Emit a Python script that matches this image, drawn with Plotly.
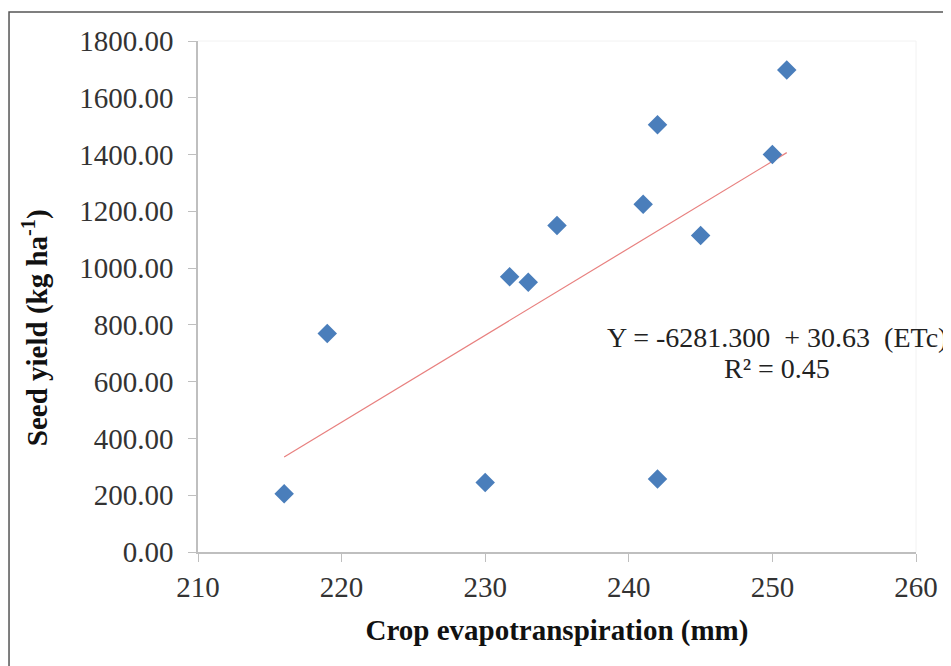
import plotly.graph_objects as go

# Data
etc_mm = [216, 219, 230, 231.7, 233, 235, 241, 242, 242, 245, 250, 251]
seed_yield = [205, 770, 245, 970, 950, 1150, 1225, 1505, 257, 1115, 1400, 1698]

# Trend line equation shown on chart
intercept = -6281.300
slope = 30.63
r2 = 0.45

x_ticks = [210, 220, 230, 240, 250, 260]
y_ticks = [0, 200, 400, 600, 800, 1000, 1200, 1400, 1600, 1800]

fmin, fmax = min(etc_mm), max(etc_mm)
trend_x = [fmin, fmax]
trend_y = [intercept + slope * v for v in trend_x]

FONT = "Liberation Serif, Times New Roman, serif"

fig = go.Figure()
fig.add_trace(go.Scatter(
    x=trend_x, y=trend_y, mode="lines",
    line=dict(color="#e8807f", width=1.2),
    showlegend=False, hoverinfo="skip"))
fig.add_trace(go.Scatter(
    x=etc_mm, y=seed_yield, mode="markers",
    marker=dict(symbol="diamond", size=15, color="#4a7ebb",
                line=dict(width=0)),
    showlegend=False))

fig.add_annotation(x=250.3, y=754, xref="x", yref="y",
                   text="Y = -6281.300 &nbsp;+ 30.63 &nbsp;(ETc)", showarrow=False,
                   font=dict(family=FONT, size=28, color="#222"))
fig.add_annotation(x=250.3, y=648, xref="x", yref="y",
                   text="R² = 0.45", showarrow=False,
                   font=dict(family=FONT, size=28, color="#222"))

# y-axis title (offset downward like the reference)
fig.add_annotation(x=-0.227, y=0.438, xref="paper", yref="paper",
                   text="<b>Seed yield (kg ha<sup>-1</sup>)</b>", textangle=-90,
                   showarrow=False, xanchor="center", yanchor="middle",
                   font=dict(family=FONT, size=29, color="#111"))

# outer border
fig.add_shape(type="rect", xref="paper", yref="paper",
              x0=-0.2632, x1=1.1, y0=-0.29, y1=1.0568,
              line=dict(color="#555", width=1.5), layer="below")

fig.update_layout(
    width=943, height=658,
    margin=dict(l=190, r=35, t=33, b=114),
    paper_bgcolor="white", plot_bgcolor="white",
    font=dict(family=FONT, color="#222"),
    xaxis=dict(
        range=[210, 260], tickvals=x_ticks, ticktext=[str(v) for v in x_ticks],
        showgrid=False, zeroline=False,
        showline=True, linecolor="#bfbfbf", linewidth=1.5,
        ticks="outside", ticklen=8, tickcolor="#bfbfbf",
        ticklabelstandoff=0,
        tickfont=dict(family=FONT, size=29, color="#333"),
        title=dict(text="<b>Crop evapotranspiration (mm)</b>",
                   font=dict(family=FONT, size=29, color="#111"),
                   standoff=18),
        mirror=False),
    yaxis=dict(
        range=[0, 1800], tickvals=y_ticks,
        ticktext=[f"{v:.2f}" for v in y_ticks],
        showgrid=False, zeroline=False,
        showline=True, linecolor="#bfbfbf", linewidth=1.5,
        ticks="outside", ticklen=8, tickcolor="#bfbfbf",
        ticklabelstandoff=9,
        tickfont=dict(family=FONT, size=29, color="#333")),
)

# faint plot-area frame on top/right
fig.add_shape(type="line", xref="paper", yref="paper", x0=0, x1=1, y0=1, y1=1,
              line=dict(color="#f2f2f2", width=1))
fig.add_shape(type="line", xref="paper", yref="paper", x0=1, x1=1, y0=0, y1=1,
              line=dict(color="#f2f2f2", width=1))

fig.write_html("out.html")
